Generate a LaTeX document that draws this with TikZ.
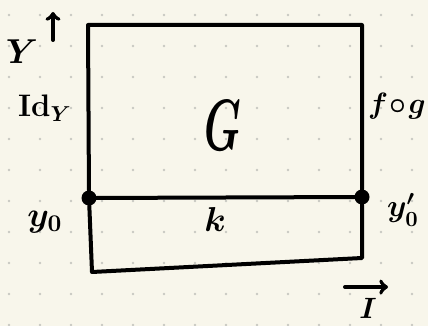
\documentclass[tikz,border=0pt]{standalone}
\usepackage{amsmath,amssymb}
\usepackage{tikz}
\usetikzlibrary{positioning}

\definecolor{paper}{HTML}{F8F6EB}
\definecolor{griddot}{HTML}{C8C8C2}

\tikzset{
  ink/.style={line width=4pt, line cap=round, line join=round},
  joint/.style={circle, fill=black, inner sep=0pt, minimum size=15pt},
  lab/.style={inner sep=0pt, font=\Large\boldmath, scale=2.4},
}

\begin{document}
\begin{tikzpicture}[x=1pt,y=-1pt]
			\fill[paper] (0,0) rectangle (428,326);
			\useasboundingbox (0,0) rectangle (428,326);
			\foreach \i in {0,...,13}
				\foreach \j in {0,...,10}
					\fill[griddot] (9+31*\i,15+31*\j) circle (1.4);
			
			\coordinate (tl) at (88,25);
			\coordinate (tr) at (362,25);
			\coordinate (bl) at (92,272);
			\coordinate (br) at (362,258);
			\node[joint] (y0dot) at (89,198) {};
			\node[joint] (y0pdot) at (362,197) {};
			
			\node[lab] (Y) at (22,52) {$Y$};
			\node[lab, scale=0.9] (idY) at (45,108) {$\mathrm{Id}_Y$};
			\node[lab, xscale=1.2, yscale=2.1] (G) at (223,126) {$G$};
			\node[lab, scale=0.85] (fog) at (397,106) {$f\!\circ\! g$};
			\node[lab] (y0) at (45,222) {$y_0$};
			\node[lab, scale=0.9] (y0p) at (403,210) {$y_0'$};
			\node[lab] (k) at (215,219) {$k$};
			\node[lab, scale=0.85] (I) at (368,308) {$I$};
			
			\coordinate (Ya) at (53,40);
			\coordinate (Yb) at (53,12);
			\coordinate (Ia) at (345,287);
			\coordinate (Ib) at (388,287);
			
			\draw[ink] (y0dot) -- (tl) -- (tr) -- (y0pdot);
			\draw[ink] (y0dot) -- (y0pdot);
			\draw[ink] (y0dot) -- (bl) -- (br) -- (y0pdot);
			\draw[ink, ->] (Ya) -- (Yb);
			\draw[ink, ->] (Ia) -- (Ib);
		\end{tikzpicture}
\end{document}
